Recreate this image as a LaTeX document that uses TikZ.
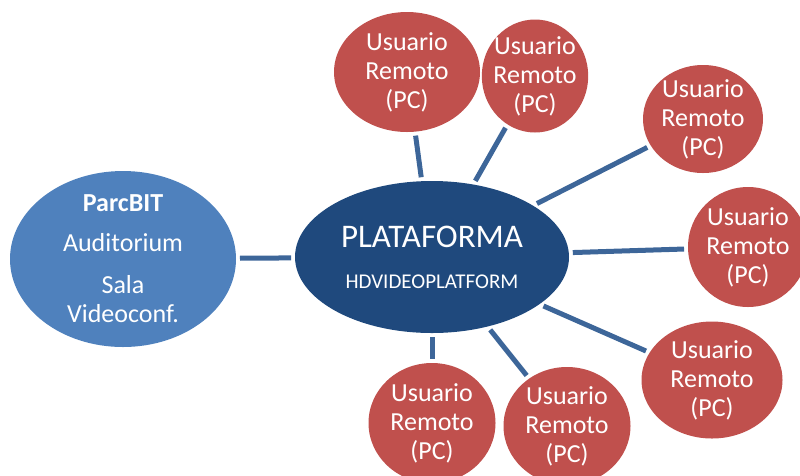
\documentclass[tikz,border=0pt]{standalone}
\usepackage{fontspec}
\setmainfont{Carlito}
\usetikzlibrary{shapes.geometric}
\definecolor{userred}{HTML}{C0504D}
\definecolor{siteblue}{HTML}{4F81BD}
\definecolor{platblue}{HTML}{1F497D}
\definecolor{linkblue}{HTML}{3D6699}

\begin{document}
\begin{tikzpicture}[x=1pt, y=-1pt,
    blob/.style={ellipse, fill=#1, text=white, align=center, inner sep=-4pt, outer sep=4pt},
    user/.style={blob=userred, font=\fontsize{26}{29}\selectfont},
    link/.style={draw=linkblue, line width=5pt}]
    \useasboundingbox (0,0) rectangle (800,475);

    \node [blob=siteblue, minimum width=226, minimum height=176, font=\fontsize{26}{29}\selectfont] (parcbit) at (123,259) {\textbf{ParcBIT}\\[11pt]Auditorium\\[13pt]Sala\\Videoconf.};
    \node [blob=platblue, minimum width=274, minimum height=152, font=\fontsize{21}{41}\selectfont] (plataforma) at (432,257) {{\fontsize{33}{41}\selectfont PLATAFORMA}\\HDVIDEOPLATFORM};

    \node [user, minimum width=146, minimum height=120] (u1) at (407,72) {Usuario\\Remoto\\(PC)};
    \node [user, minimum width=104, minimum height=113] (u2) at (535,76) {Usuario\\Remoto\\(PC)};
    \node [user, minimum width=120, minimum height=108] (u3) at (703,119) {Usuario\\Remoto\\(PC)};
    \node [user, minimum width=120, minimum height=120] (u4) at (748,247) {Usuario\\Remoto\\(PC)};
    \node [user, minimum width=141, minimum height=117] (u5) at (712,380) {Usuario\\Remoto\\(PC)};
    \node [user, minimum width=127, minimum height=120] (u6) at (432,423) {Usuario\\Remoto\\(PC)};
    \node [user, minimum width=127, minimum height=118] (u7) at (567,426) {Usuario\\Remoto\\(PC)};

    \path [link] (parcbit) -- (plataforma);
    \path [link] (plataforma) -- (u1);
    \path [link] (plataforma) -- (u2);
    \path [link] (plataforma) -- (u3);
    \path [link] (plataforma) -- (u4);
    \path [link] (plataforma) -- (u5);
    \path [link] (plataforma) -- (u6);
    \path [link] (plataforma) -- (u7);
\end{tikzpicture}
\end{document}
